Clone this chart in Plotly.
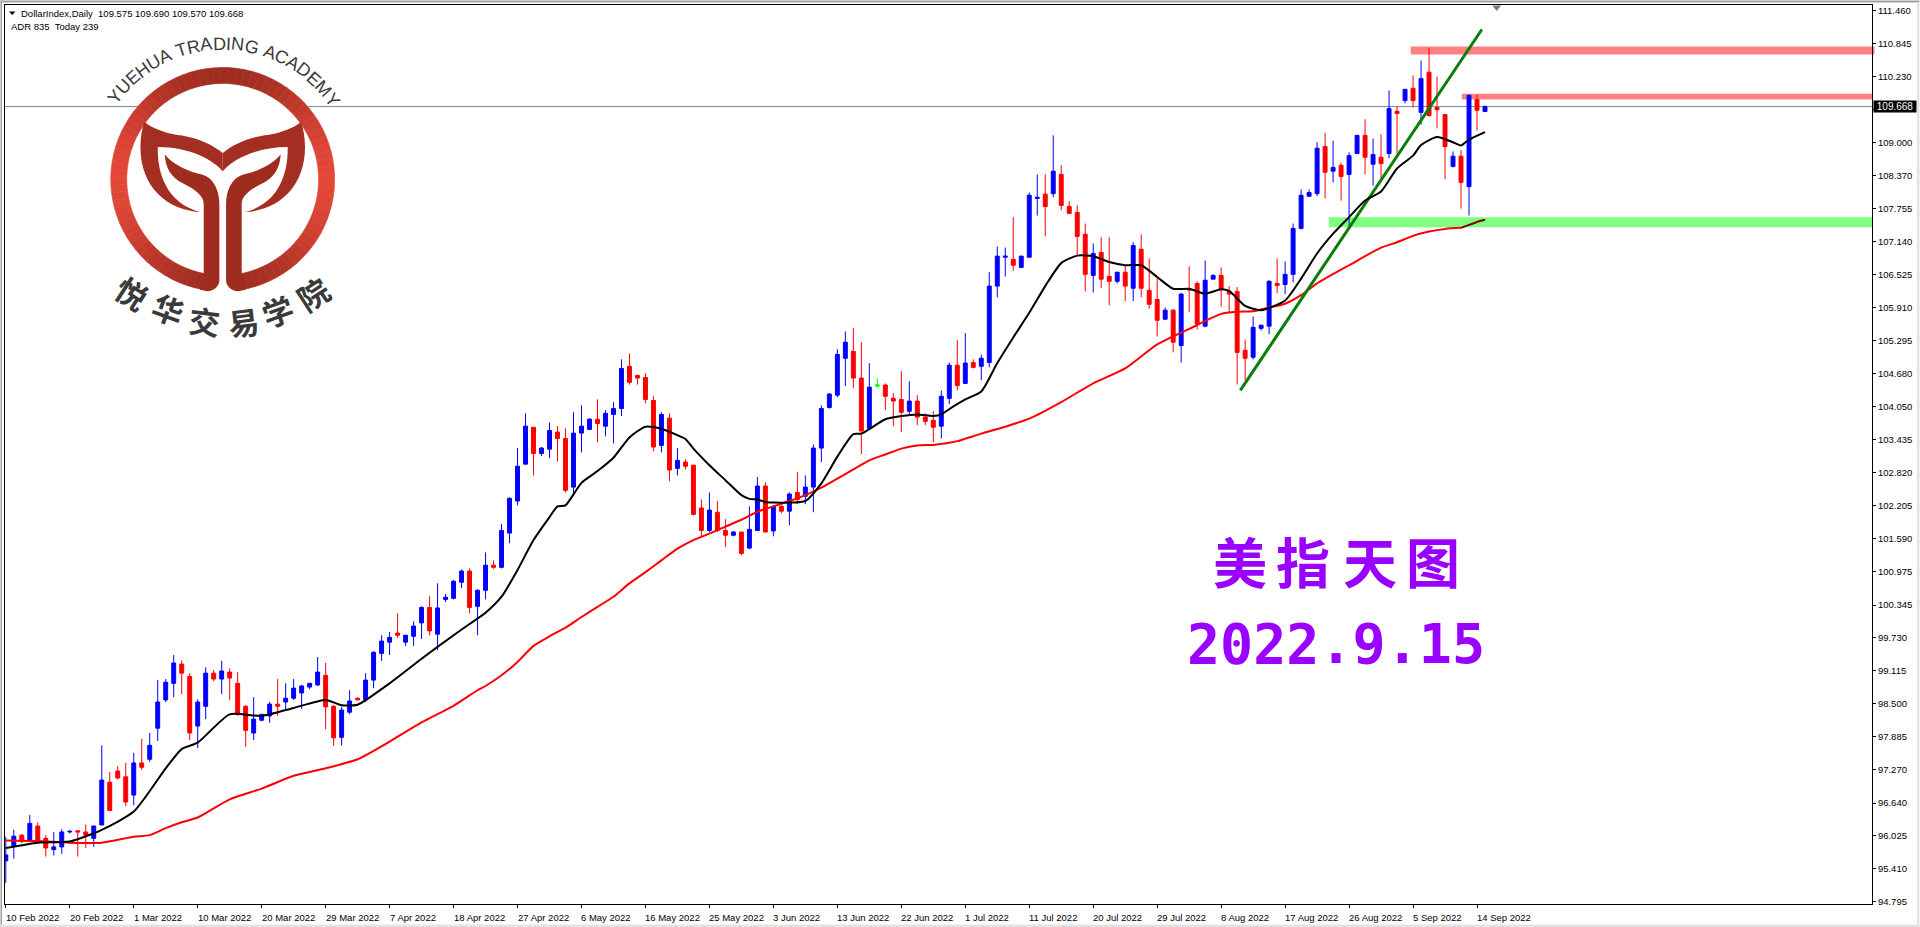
import math
import plotly.graph_objects as go

# ---------- data ----------
opens = [95.56,95.84,96.04,95.95,96.21,95.98,95.77,95.82,96.10,96.12,
96.10,95.98,96.23,97.03,97.24,97.13,96.79,97.39,97.46,98.04,
98.57,98.88,99.24,99.01,98.08,98.45,99.07,98.96,99.09,98.88,
98.45,97.95,98.19,98.27,98.49,98.53,98.60,98.70,98.81,98.85,
99.03,98.45,97.87,98.34,98.60,98.57,98.94,99.44,99.65,99.82,
99.65,99.76,100.01,100.30,99.80,100.45,100.47,100.77,100.98,100.32,
100.62,101.09,101.05,101.69,102.29,102.98,103.67,103.18,103.26,103.58,
103.46,102.55,103.56,103.63,103.82,103.69,103.91,104.02,104.81,104.64,
104.60,104.17,103.33,103.84,102.90,103.02,102.96,102.16,101.74,102.08,
101.74,101.65,101.71,101.41,101.74,102.57,101.73,102.19,102.10,102.45,
102.38,102.55,103.28,104.04,104.27,104.96,105.09,104.59,103.65,104.44,
104.46,104.21,104.19,103.97,104.16,103.86,103.80,103.69,104.21,104.83,
104.49,104.88,104.81,104.88,106.31,106.85,106.81,106.66,106.85,107.95,
108.03,108.04,108.40,107.80,107.69,107.28,106.51,106.94,106.49,106.40,
106.57,106.27,107.00,106.23,106.06,105.69,105.86,105.20,106.26,106.36,
105.56,106.44,106.51,106.21,106.21,105.11,104.98,105.52,105.56,106.36,
106.34,106.53,107.39,107.99,108.04,108.92,108.46,108.57,108.40,108.79,
109.13,108.59,108.72,108.79,109.58,109.78,110.01,109.56,110.31,109.65,
109.52,108.55,108.74,108.17,109.80,109.575]
closes = [95.67,96.02,95.92,96.26,95.95,95.80,95.82,96.10,96.11,96.10,
96.04,96.21,97.07,96.50,97.11,96.66,97.39,97.31,97.72,98.53,
98.90,99.26,99.07,97.95,98.53,99.07,98.96,99.11,98.98,98.30,
98.00,98.21,98.30,98.49,98.45,98.60,98.79,98.83,98.88,99.09,
98.44,97.86,98.38,98.55,98.57,98.94,99.46,99.67,99.74,99.78,
99.78,99.95,100.30,99.86,100.29,100.49,100.79,100.98,100.30,100.62,
101.09,101.05,101.74,102.34,102.94,103.69,103.18,103.28,103.61,103.46,
102.49,103.56,103.69,103.82,103.74,103.93,104.02,104.77,104.51,104.59,
104.19,103.30,103.91,102.87,103.05,102.94,102.04,101.74,102.12,101.74,
101.65,101.71,101.31,101.76,102.57,101.71,102.19,102.10,102.42,102.32,
102.55,103.28,104.02,104.29,105.03,105.26,104.59,103.60,104.42,104.46,
104.25,104.16,103.95,104.16,103.86,103.78,103.67,104.25,104.83,104.45,
104.87,104.79,104.96,106.31,106.87,106.87,106.70,106.87,108.01,107.97,
107.80,108.46,107.82,107.67,107.24,106.53,106.92,106.44,106.40,106.57,
106.31,107.07,106.27,105.97,105.67,105.86,105.26,106.16,106.24,105.60,
106.42,106.51,106.25,106.16,105.07,104.96,105.54,105.58,106.40,106.32,
106.53,107.39,108.01,108.06,108.89,108.44,108.53,108.36,108.75,109.13,
108.72,108.77,108.60,109.63,109.54,109.99,109.78,110.19,109.50,109.61,
108.92,108.74,108.25,109.88,109.60,109.668]
highs = [96.01,96.14,96.06,96.42,96.28,96.04,96.10,96.15,96.14,96.13,
96.24,96.22,97.72,97.22,97.33,97.39,97.58,97.84,97.95,98.94,
98.96,99.41,99.31,99.07,98.58,99.18,99.13,99.30,99.16,99.09,
98.47,98.62,98.30,98.53,98.96,98.88,98.96,98.85,98.88,99.37,
99.26,98.47,98.44,98.75,98.62,99.07,99.48,99.78,99.84,100.19,
99.78,100.04,100.32,100.51,100.75,100.55,100.81,101.01,101.03,100.64,
101.33,101.18,101.86,102.36,103.28,103.93,103.67,103.30,103.76,103.69,
103.65,103.95,104.08,103.84,104.19,103.99,104.14,104.94,105.05,104.64,
104.68,104.25,103.95,103.93,103.28,103.07,102.96,102.32,102.45,102.29,
101.95,101.73,101.71,102.19,102.74,102.64,102.21,102.21,102.45,102.83,
102.77,103.35,104.08,104.31,105.13,105.46,105.53,105.26,104.87,104.59,
104.49,104.31,104.72,104.53,104.27,103.93,103.97,104.36,104.88,105.30,
105.43,104.94,105.03,106.57,107.05,107.03,107.60,106.88,108.06,108.40,
108.40,109.13,108.57,107.90,107.82,107.48,107.11,107.22,107.22,106.57,
106.70,107.13,107.28,106.83,106.46,105.91,105.88,106.18,106.68,106.40,
106.79,106.53,106.66,106.31,106.29,105.31,105.74,105.58,106.42,106.83,
106.77,107.48,108.12,108.12,109.00,109.18,109.03,108.62,108.81,109.13,
109.43,109.07,109.15,109.97,109.67,109.99,110.25,110.53,110.77,110.23,
109.52,108.83,108.85,109.89,109.89,109.690]
lows = [95.15,95.60,95.89,95.93,95.92,95.64,95.66,95.69,96.07,95.64,
95.80,95.82,96.23,96.50,97.08,96.58,96.60,97.26,97.41,97.80,
98.53,98.62,98.68,97.82,97.67,98.21,98.92,98.68,98.57,98.27,
97.69,97.82,98.17,98.14,98.27,98.40,98.57,98.40,98.77,98.83,
98.02,97.71,97.72,98.30,98.57,98.53,98.79,99.30,99.41,99.73,
99.58,99.58,99.71,99.78,99.50,100.40,100.45,100.66,100.19,99.78,
100.45,101.02,101.03,101.50,102.21,102.98,102.77,103.13,103.09,103.03,
102.45,102.40,103.20,103.63,103.39,103.50,103.37,103.88,104.47,104.47,
104.12,103.22,103.20,102.66,102.77,102.88,102.02,101.61,101.71,101.71,
101.43,101.63,101.28,101.39,101.74,101.71,101.63,102.06,101.84,102.23,
102.23,102.08,103.02,104.02,104.23,104.44,104.40,103.17,103.64,104.40,
103.99,103.69,103.58,103.88,103.71,103.71,103.39,103.46,104.10,104.36,
104.49,104.77,104.55,104.79,106.10,106.49,106.60,106.66,106.85,107.63,
107.24,107.97,107.73,107.67,106.87,106.21,106.19,106.27,105.95,106.36,
106.03,106.03,106.10,105.89,105.37,105.69,105.07,104.88,105.82,105.50,
105.54,106.44,105.93,105.82,104.47,104.55,104.94,105.48,105.41,106.18,
106.16,106.38,107.37,107.99,107.99,107.95,108.25,107.91,107.43,108.79,
108.40,108.19,108.32,108.70,108.79,109.73,109.65,109.33,109.48,109.26,
108.31,108.53,107.76,107.63,109.22,109.570]
doji_green_bar = 109

black_bars = [0,4,8,12,16,20,22,24,28,32,36,40,42,44,48,52,56,58,60,62,64,66,68,69,70,72,74,76,78,80,82,84,85,86,88,90,92,93,94,95,96,98,100,102,104,106,107,110,112,114,116,117,118,120,122,124,126,128,130,132,134,136,138,140,142,144,146,148,150,152,153,155,157,160,162,164,166,168,170,172,174,176,177,179,181,182,183,185]
black_ma = [95.80,95.90,95.92,96.14,96.48,97.29,97.65,97.77,98.30,98.27,98.42,98.57,98.47,98.48,98.88,99.34,99.78,99.99,100.20,100.50,101.00,101.56,101.99,102.19,102.21,102.63,102.85,103.10,103.48,103.68,103.64,103.52,103.45,103.27,102.96,102.68,102.40,102.33,102.32,102.27,102.26,102.26,102.29,102.62,103.12,103.54,103.55,103.82,103.88,103.91,103.88,103.91,104.01,104.19,104.34,104.87,105.35,105.81,106.31,106.74,106.88,106.87,106.76,106.70,106.70,106.48,106.26,106.26,106.17,106.25,106.22,105.94,105.86,106.04,106.45,106.92,107.29,107.60,107.91,108.08,108.51,108.75,108.95,109.10,109.00,108.94,109.05,109.19]

red_bars = [0,4,8,12,16,18,20,22,24,28,32,36,40,44,48,52,56,59,60,62,64,66,68,70,72,74,76,78,80,82,84,86,88,90,92,94,96,98,100,102,104,106,108,110,112,114,116,118,119,122,125,128,132,136,140,144,148,152,154,156,158,160,162,164,168,172,174,176,178,180,182,184,185]
red_ma = [95.94,95.93,95.90,95.90,96.01,96.04,96.17,96.28,96.37,96.71,96.91,97.15,97.29,97.46,97.79,98.15,98.46,98.75,98.83,99.03,99.28,99.58,99.76,99.92,100.12,100.31,100.50,100.75,100.96,101.18,101.40,101.56,101.68,101.81,101.94,102.09,102.19,102.29,102.40,102.54,102.71,102.88,103.05,103.16,103.27,103.33,103.34,103.38,103.41,103.55,103.68,103.83,104.14,104.49,104.77,105.22,105.51,105.79,105.83,105.84,105.91,105.98,106.14,106.36,106.70,107.03,107.13,107.25,107.33,107.38,107.40,107.51,107.55]
red_dark_from = 70  # position in red_bars where the line runs over the green zone

trend_bars = [154.4, 184.6]
trend_prices = [104.36, 111.11]

zone_hi_1, zone_lo_1 = 110.79, 110.64
zone_hi_2, zone_lo_2 = 109.91, 109.80
zone_hi_3, zone_lo_3 = 107.60, 107.41
last_price = 109.668

y_tick_values = ["111.460","110.845","110.230","109.615","109.000","108.370","107.755","107.140","106.525","105.910","105.295","104.680","104.050","103.435","102.820","102.205","101.590","100.975","100.345","99.730","99.115","98.500","97.885","97.270","96.640","96.025","95.410","94.795"]
y_tick_hidden = "109.615"  # sits behind the price tag
x_tick_labels = ["10 Feb 2022","20 Feb 2022","1 Mar 2022","10 Mar 2022","20 Mar 2022","29 Mar 2022","7 Apr 2022","18 Apr 2022","27 Apr 2022","6 May 2022","16 May 2022","25 May 2022","3 Jun 2022","13 Jun 2022","22 Jun 2022","1 Jul 2022","11 Jul 2022","20 Jul 2022","29 Jul 2022","8 Aug 2022","17 Aug 2022","26 Aug 2022","5 Sep 2022","14 Sep 2022"]
x_tick_step = 8

# ---------- layout helpers ----------
W, H = 1920, 927
L, R, T, B = 4.5, 1872.5, 4.5, 904.0
def px(x): return (x - L) / (R - L)
def py(y): return (B - y) / (B - T)
def pt(x, y): return f"{px(x):.5f},{py(y):.5f}"

SMALL = "Liberation Sans, sans-serif"
SMALL_SIZE = 9.5
shapes, anns = [], []

def rect_px(x0, y0, x1, y1, color):
    shapes.append(dict(type="rect", xref="paper", yref="paper", x0=px(x0), x1=px(x1), y0=py(y0), y1=py(y1),
                       fillcolor=color, line_width=0, layer="above"))

def text_px(x, y, s, size, color, family=SMALL, anchor="left", angle=0, bg=None):
    anns.append(dict(xref="paper", yref="paper", x=px(x), y=py(y), text=s, showarrow=False, xanchor=anchor,
                     yanchor="middle", textangle=angle, font=dict(size=size, color=color, family=family),
                     borderpad=0, bgcolor=bg))

# window chrome
rect_px(0, 0, 1920, 2, "#a0a0a0")
rect_px(0, 0, 1.5, 927, "#a0a0a0")
rect_px(0, 924.5, 1920, 927, "#e3e3e3")
rect_px(1917.5, 2, 1920, 927, "#e3e3e3")

# zones and price line
shapes.append(dict(type="line", xref="paper", yref="y", x0=0, x1=1, y0=last_price, y1=last_price,
                   line=dict(color="#778899", width=1), layer="below"))
for x0, x1, hi, lo, col in [(1411, 1875, zone_hi_1, zone_lo_1, "#ff8080"),
                            (1462, R, zone_hi_2, zone_lo_2, "#ff8080"),
                            (1329, R, zone_hi_3, zone_lo_3, "#80ff80")]:
    shapes.append(dict(type="rect", xref="paper", yref="y", x0=px(x0), x1=px(x1), y0=lo, y1=hi,
                       fillcolor=col, line_width=0, layer="below"))

# marker at the top of the chart
shapes.append(dict(type="path", xref="paper", yref="paper",
                   path=f"M {pt(1492.5,5)} L {pt(1501.5,5)} L {pt(1497,10.5)} Z",
                   fillcolor="#708090", line_width=0, layer="above"))

# ---------- logo ----------
cx, cy, Ro, Ri = 222.3, 179.0, 112.0, 96.0
shapes.append(dict(type="circle", xref="paper", yref="paper", x0=px(cx-Ro), x1=px(cx+Ro), y0=py(cy+Ro), y1=py(cy-Ro),
                   fillcolor="#ffffff", line_width=0, layer="above"))
def lerp(a, b, t): return int(round(a + (b - a) * t))
step = 4
for a in range(-173, 173, step):
    a0, a1 = math.radians(a), math.radians(min(a + step, 173))
    am = (a0 + a1) / 2
    t = min(1, abs(math.sin(am))) ** 2.2
    col = f"rgb({lerp(160,226,t)},{lerp(45,71,t)},{lerp(32,56,t)})"
    p = [(cx + Ro*math.sin(a0), cy - Ro*math.cos(a0)), (cx + Ro*math.sin(a1), cy - Ro*math.cos(a1)),
         (cx + Ri*math.sin(a1), cy - Ri*math.cos(a1)), (cx + Ri*math.sin(a0), cy - Ri*math.cos(a0))]
    path = "M " + " L ".join(pt(*q) for q in p) + " Z"
    shapes.append(dict(type="path", xref="paper", yref="paper", path=path, fillcolor=col,
                       line=dict(color=col, width=0.6), layer="above"))

def bez(cmds, mirror=False):
    out = []
    for c in cmds:
        op, nums = c[0], c[1:]
        pts = []
        for zx, zy in nums:
            zx2 = 1334 - zx if mirror else zx
            pts.append(pt(zx2 / 3, zy / 3))
        out.append(op + " " + " ".join(pts))
    return " ".join(out) + " Z"

tail = [("M",(432,365)),("C",(470,395),(530,405),(545,405)),("C",(600,415),(640,435),(667,458)),("L",(667,513)),
        ("C",(640,480),(570,440),(472,440)),("C",(470,520),(500,610),(600,635)),("C",(500,630),(420,560),(420,440)),
        ("C",(420,410),(425,385),(432,365))]
stem = [("M",(493,462)),("C",(520,495),(570,515),(605,522)),("C",(640,532),(657,570),(657,612)),("L",(657,840)),
        ("C",(657,858),(640,873),(622,873)),("L",(598,868)),("L",(610,822)),("L",(610,610)),
        ("C",(610,585),(580,565),(550,550)),("C",(510,530),(495,500),(493,462))]
for m in (False, True):
    for cmds, col in ((tail, "#a52e22"), (stem, "#9e2d20")):
        shapes.append(dict(type="path", xref="paper", yref="paper", path=bez(cmds, m), fillcolor=col,
                           line_width=0, layer="above"))

# arc lettering of the logo
logo_en = "YUEHUA TRADING ACADEMY"
w_en = dict(Y=.667,U=.722,E=.667,H=.722,A=.667,T=.611,R=.722,D=.722,I=.278,N=.722,G=.778,C=.722,M=.833)
w_en[" "] = .278
tot = sum(w_en[c] for c in logo_en)
run = 0.0
a_start, a_end, r_txt = -52.5, 54.0, 136.0
for c in logo_en:
    w = w_en[c]
    ang = a_start + (a_end - a_start) * (run + w / 2 - w_en["Y"] / 2) / (tot - w_en["Y"])
    run += w
    if c != " ":
        ra = math.radians(ang)
        text_px(cx + r_txt * math.sin(ra), cy - r_txt * math.cos(ra), c, 18, "#3a3a3a",
                family="Liberation Sans, Arial, sans-serif", anchor="center", angle=ang)
logo_cn = "悦华交易学院"
logo_cn_x = [132, 168, 204, 243, 277, 312]
logo_cn_y = [292, 308, 320, 321, 310, 293]
logo_cn_a = [33, 20, 7, -7, -20, -33]
for c, x, y, a in zip(logo_cn, logo_cn_x, logo_cn_y, logo_cn_a):
    text_px(x, y, f"<b>{c}</b>", 31, "#3a3a3a", family="Noto Sans CJK SC", anchor="center", angle=a)

# ---------- header and captions ----------
shapes.append(dict(type="path", xref="paper", yref="paper",
                   path=f"M {pt(8.5,11)} L {pt(15,11)} L {pt(11.7,14.5)} Z", fillcolor="#000000", line_width=0, layer="above"))
text_px(20, 12.7, "DollarIndex,Daily  109.575 109.690 109.570 109.668", SMALL_SIZE, "#000000")
text_px(9.5, 25.7, "ADR 835  Today 239", SMALL_SIZE, "#000000")

title_cn = "美指天图"
title_cn_x = [1240, 1303, 1370, 1433]
for c, x in zip(title_cn, title_cn_x):
    text_px(x, 560, f"<b>{c}</b>", 54, "#9900ff", family="Noto Sans CJK SC", anchor="center")
text_px(1186, 644, "<b>2022.9.15</b>", 55, "#9900ff", family="DejaVu Sans Mono")

# price tag on the axis
text_px(1874, 106.5, "&nbsp;109.668&nbsp;", 10, "#ffffff", bg="#000000")

# date labels start at their tick
for i, lab in enumerate(x_tick_labels):
    anns.append(dict(xref="x", yref="paper", x=i * x_tick_step, y=0, yshift=-13, text=lab, showarrow=False,
                     xanchor="left", xshift=-2, yanchor="middle", font=dict(size=SMALL_SIZE, color="#000000", family=SMALL)))

# ---------- traces ----------
bars = list(range(len(opens)))
keep = [i for i in bars if i != doji_green_bar]
fig = go.Figure()
fig.add_trace(go.Candlestick(
    x=keep, open=[opens[i] for i in keep], high=[highs[i] for i in keep],
    low=[lows[i] for i in keep], close=[closes[i] for i in keep],
    increasing=dict(line=dict(color="#0000ff", width=1), fillcolor="#0000ff"),
    decreasing=dict(line=dict(color="#ff0000", width=1), fillcolor="#ff0000"),
    whiskerwidth=0, showlegend=False, hoverinfo="skip"))
fig.add_trace(go.Candlestick(
    x=[doji_green_bar], open=[opens[doji_green_bar]], high=[highs[doji_green_bar]],
    low=[lows[doji_green_bar]], close=[closes[doji_green_bar]],
    increasing=dict(line=dict(color="#00ff00", width=1), fillcolor="#00ff00"),
    decreasing=dict(line=dict(color="#00ff00", width=1), fillcolor="#00ff00"),
    whiskerwidth=0, showlegend=False, hoverinfo="skip"))
ma_line = dict(width=2, shape="spline", smoothing=0.6)
fig.add_trace(go.Scatter(x=red_bars[:red_dark_from + 1], y=red_ma[:red_dark_from + 1], mode="lines",
                         line=dict(color="#ff0000", **ma_line), showlegend=False, hoverinfo="skip"))
fig.add_trace(go.Scatter(x=red_bars[red_dark_from:], y=red_ma[red_dark_from:], mode="lines",
                         line=dict(color="#800000", **ma_line), showlegend=False, hoverinfo="skip"))
fig.add_trace(go.Scatter(x=trend_bars, y=trend_prices, mode="lines",
                         line=dict(color="#0a7d0a", width=3), showlegend=False, hoverinfo="skip"))
fig.add_trace(go.Scatter(x=black_bars, y=black_ma, mode="lines",
                         line=dict(color="#000000", **ma_line), showlegend=False, hoverinfo="skip"))

y_bottom = 94.795 + (901.7 - B) * 0.018695
y_top = 94.795 + (901.7 - T) * 0.018695
x_left = (L - 5.3) / 8
x_right = (R - 5.3) / 8
fig.update_layout(
    width=W, height=H, autosize=False, paper_bgcolor="#ffffff", plot_bgcolor="#ffffff",
    margin=dict(l=L, r=W - R, t=T, b=H - B, pad=0, autoexpand=False), shapes=shapes, annotations=anns,
    showlegend=False, hovermode=False,
    xaxis=dict(range=[x_left, x_right], rangeslider=dict(visible=False), showgrid=False, zeroline=False,
               tickmode="array", tickvals=[i * x_tick_step for i in range(len(x_tick_labels))],
               ticktext=[""] * len(x_tick_labels), ticks="outside", ticklen=3, tickcolor="#000000", tickwidth=1,
               showline=True, linecolor="#000000", linewidth=1, mirror=True),
    yaxis=dict(range=[y_bottom, y_top], side="right", showgrid=False, zeroline=False, tickmode="array",
               tickvals=[float(v) for v in y_tick_values],
               ticktext=["" if v == y_tick_hidden else v for v in y_tick_values], ticks="outside", ticklen=3,
               tickcolor="#000000", tickwidth=1, showline=True, linecolor="#000000", linewidth=1, mirror=True,
               tickfont=dict(size=SMALL_SIZE, color="#000000", family=SMALL)),
)
fig.write_html("out.html", config=dict(displayModeBar=False),
               post_script="document.body.style.margin='0';document.body.style.overflow='hidden';")
